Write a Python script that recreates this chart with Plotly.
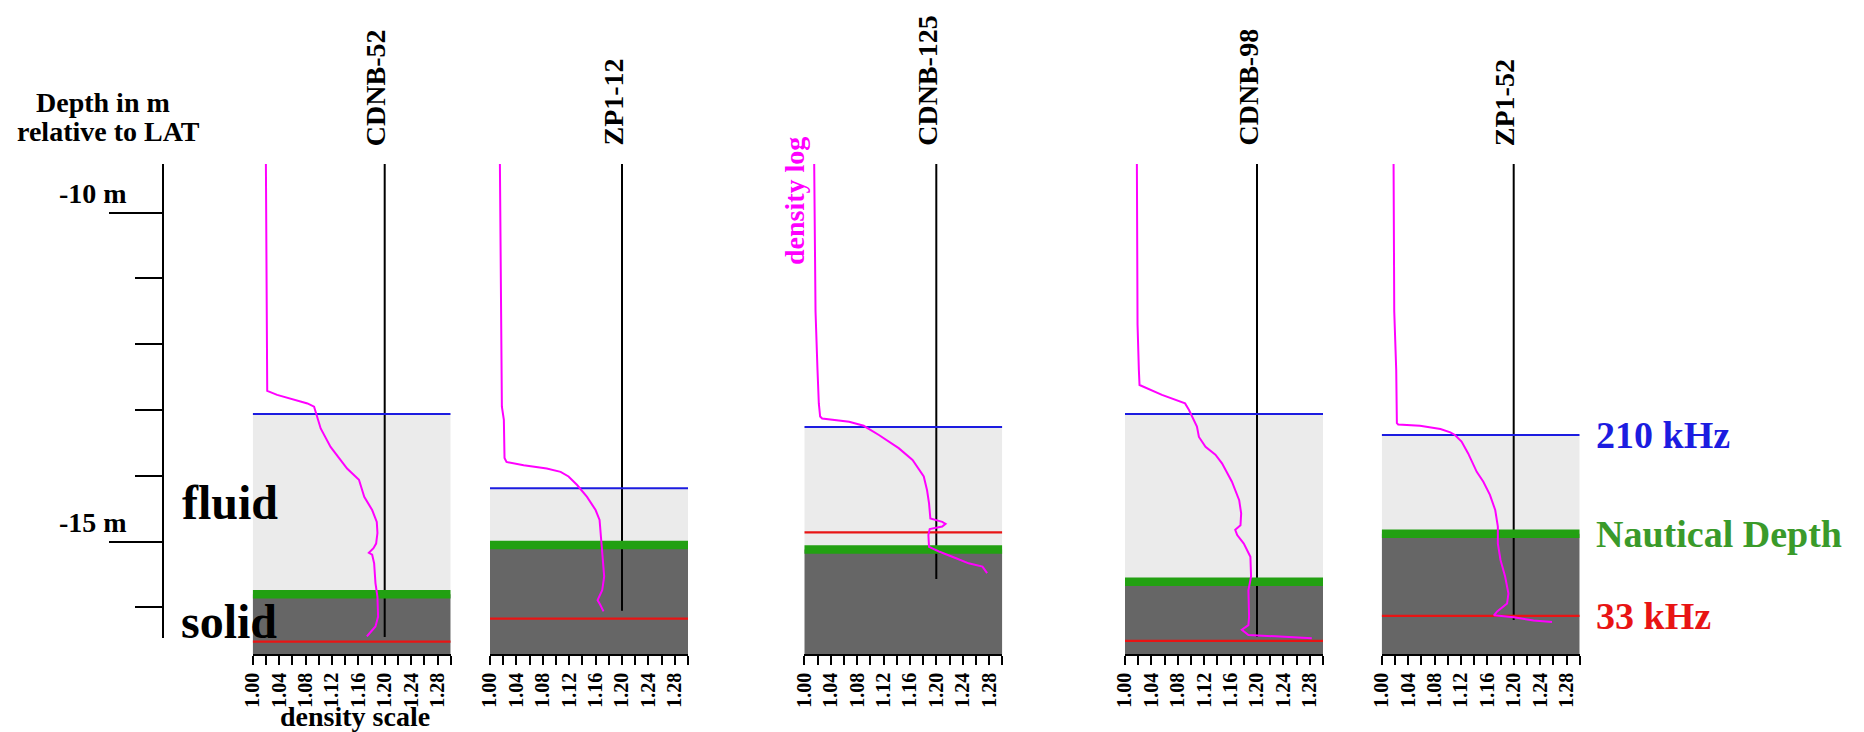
import plotly.graph_objects as go

W, H = 1864, 732

# ---------------- data ----------------
panel_names = ["CDNB-52", "ZP1-12", "CDNB-125", "CDNB-98", "ZP1-52"]

depth_p1 = [-9.26, -10.5, -11.5, -12.71, -12.77, -12.84, -12.90, -12.95, -13.08, -13.28, -13.56, -13.89,
            -14.06, -14.32, -14.52, -14.70, -14.87, -15.03, -15.10, -15.17, -15.20, -15.33, -15.63,
            -15.84, -16.14, -16.29, -16.37, -16.44]
dens_p1 = [1.020, 1.021, 1.022, 1.022, 1.037, 1.063, 1.083, 1.093, 1.097, 1.103, 1.118, 1.143,
           1.161, 1.169, 1.181, 1.188, 1.189, 1.187, 1.183, 1.176, 1.181, 1.184, 1.186,
           1.189, 1.190, 1.186, 1.179, 1.173]

depth_p2 = [-9.26, -10.8, -11.8, -12.39, -12.95, -13.15, -13.73, -13.79, -13.84, -13.89, -13.94, -14.01,
            -14.14, -14.32, -14.52, -14.67, -14.92, -15.23, -15.53, -15.74, -15.89, -15.96, -16.06]
dens_p2 = [1.015, 1.016, 1.017, 1.017, 1.018, 1.021, 1.022, 1.025, 1.051, 1.086, 1.107, 1.119,
           1.132, 1.147, 1.160, 1.166, 1.168, 1.170, 1.173, 1.170, 1.163, 1.167, 1.172]

depth_p3 = [-9.26, -11.5, -12.39, -12.90, -13.10, -13.13, -13.18, -13.24, -13.38, -13.58, -13.76, -14.01,
            -14.22, -14.42, -14.65, -14.70, -14.73, -14.77, -14.81, -14.90, -15.08, -15.15, -15.25,
            -15.33, -15.38, -15.48]
dens_p3 = [1.015, 1.017, 1.020, 1.022, 1.024, 1.027, 1.068, 1.090, 1.113, 1.143, 1.164, 1.181,
           1.186, 1.189, 1.191, 1.209, 1.214, 1.209, 1.190, 1.188, 1.189, 1.204, 1.229,
           1.249, 1.270, 1.277]

depth_p4 = [-9.26, -11.7, -12.39, -12.62, -12.77, -12.90, -13.00, -13.15, -13.25, -13.41, -13.56, -13.68,
            -13.81, -14.09, -14.37, -14.57, -14.75, -14.82, -14.90, -15.03, -15.23, -15.53, -15.74,
            -16.14, -16.27, -16.34, -16.42, -16.44, -16.47]
dens_p4 = [1.018, 1.019, 1.021, 1.022, 1.056, 1.091, 1.097, 1.104, 1.109, 1.112, 1.122, 1.137,
           1.147, 1.162, 1.173, 1.176, 1.175, 1.167, 1.170, 1.180, 1.190, 1.191, 1.187,
           1.188, 1.187, 1.177, 1.187, 1.228, 1.283]

depth_p5 = [-9.26, -11.5, -12.39, -13.20, -13.22, -13.24, -13.29, -13.34, -13.38, -13.48, -13.66, -13.94,
            -14.09, -14.29, -14.52, -14.77, -15.03, -15.28, -15.53, -15.79, -15.94, -16.06, -16.12,
            -16.15, -16.20, -16.22]
dens_p5 = [1.018, 1.019, 1.022, 1.023, 1.025, 1.058, 1.089, 1.104, 1.111, 1.121, 1.131, 1.144,
           1.154, 1.164, 1.172, 1.176, 1.176, 1.180, 1.187, 1.192, 1.190, 1.175, 1.170,
           1.200, 1.230, 1.258]

profiles_depth = [depth_p1, depth_p2, depth_p3, depth_p4, depth_p5]
profiles_dens = [dens_p1, dens_p2, dens_p3, dens_p4, dens_p5]

level_210khz = [-13.06, -14.19, -13.26, -13.06, -13.38]
level_nautical = [-15.80, -15.05, -15.12, -15.61, -14.88]
level_33khz = [-16.52, -16.17, -14.86, -16.51, -16.13]
ref_line_bottom = [-16.45, -16.05, -15.57, -16.45, -16.19]
ref_density = 1.20
profile_top = -9.26
depth_axis_bottom = -16.47
panel_bottom = -16.71
density_min, density_max = 1.00, 1.30
density_ticks = [1.00, 1.04, 1.08, 1.12, 1.16, 1.20, 1.24, 1.28]
density_ticktext = ["1.00", "1.04", "1.08", "1.12", "1.16", "1.20", "1.24", "1.28"]

# ---------------- geometry / style ----------------
PX_PER_M = 65.8
Y10_PX = 212.6
top_depth = -10 + Y10_PX / PX_PER_M


def ypx(d):
    return Y10_PX + (-10 - d) * PX_PER_M


def yfrac(d):
    return 1 - ypx(d) / H


def pfrac(py):
    return 1 - py / H


panel_left_px = [252.7, 490.0, 804.3, 1125.0, 1381.7]
PANEL_W = 198.0
DEPTH_AXIS_X = 163.3

SERIF = "Liberation Serif"
C_BLUE = "#1c1ce0"
C_RED = "#e81414"
C_GREEN = "#22a012"
C_GREEN_TXT = "#3a9a2a"
C_MAG = "#ff00ff"
C_LIGHT = "#ebebeb"
C_DARK = "#666666"

fig = go.Figure()
shapes = []
annotations = []

for i in range(5):
    xa = "x" if i == 0 else f"x{i+1}"
    # fills
    shapes.append(dict(type="rect", xref=xa, yref="y", x0=density_min, x1=density_max,
                       y0=level_nautical[i], y1=level_210khz[i], fillcolor=C_LIGHT,
                       line=dict(width=0), layer="below"))
    shapes.append(dict(type="rect", xref=xa, yref="y", x0=density_min, x1=density_max,
                       y0=panel_bottom, y1=level_nautical[i], fillcolor=C_DARK,
                       line=dict(width=0), layer="below"))
    # reference black line
    fig.add_trace(go.Scatter(x=[ref_density, ref_density], y=[profile_top, ref_line_bottom[i]],
                             mode="lines", line=dict(color="black", width=2),
                             xaxis=xa, yaxis="y", showlegend=False, hoverinfo="skip"))
    # horizontal levels
    for lvl, col, wd in [(level_210khz[i], C_BLUE, 2), (level_nautical[i], C_GREEN, 8.5),
                         (level_33khz[i], C_RED, 2.2)]:
        fig.add_trace(go.Scatter(x=[density_min, density_max], y=[lvl, lvl], mode="lines",
                                 line=dict(color=col, width=wd), xaxis=xa, yaxis="y",
                                 showlegend=False, hoverinfo="skip"))
    # density log
    fig.add_trace(go.Scatter(x=profiles_dens[i], y=profiles_depth[i], mode="lines",
                             line=dict(color=C_MAG, width=2), xaxis=xa, yaxis="y",
                             showlegend=False))
    # title
    annotations.append(dict(text=f"<b>{panel_names[i]}</b>", x=ref_density, xref=xa,
                            y=pfrac(148), yref="paper", textangle=-90, xanchor="center",
                            yanchor="bottom", xshift=-9, showarrow=False,
                            font=dict(family=SERIF, size=28, color="black")))

# empty trace on its own hidden x axis so the depth axis (y2) is drawn
fig.add_trace(go.Scatter(x=[None], y=[None], xaxis="x6", yaxis="y2", showlegend=False,
                         hoverinfo="skip"))

layout = dict(
    width=W, height=H, margin=dict(l=0, r=0, t=0, b=0, autoexpand=False),
    paper_bgcolor="white", plot_bgcolor="rgba(0,0,0,0)", showlegend=False,
    yaxis=dict(domain=[yfrac(panel_bottom), 1], range=[panel_bottom, top_depth],
               visible=False, fixedrange=True),
    yaxis2=dict(domain=[yfrac(depth_axis_bottom), yfrac(profile_top)],
                range=[depth_axis_bottom, profile_top], anchor="free",
                position=DEPTH_AXIS_X / W, side="left", showline=True, linecolor="black",
                linewidth=2, ticks="outside", tickmode="linear", tick0=-10, dtick=5,
                ticklen=53, tickwidth=2, tickcolor="black", showticklabels=False,
                showgrid=False, zeroline=False, fixedrange=True,
                minor=dict(ticks="outside", tick0=-10, dtick=1, ticklen=27, tickwidth=2,
                           tickcolor="black", showgrid=False)),
    xaxis6=dict(domain=[DEPTH_AXIS_X / W, 240 / W], range=[0, 1], anchor="y2",
                visible=False, fixedrange=True),
)
for i in range(5):
    key = "xaxis" if i == 0 else f"xaxis{i+1}"
    l = panel_left_px[i]
    layout[key] = dict(domain=[l / W, (l + PANEL_W) / W], range=[density_min, density_max],
                       anchor="y", showline=True, linecolor="black", linewidth=1.5,
                       ticks="outside", ticklen=9, tickwidth=1.5, tickcolor="black",
                       tickmode="array", tickvals=density_ticks, ticktext=density_ticktext,
                       tickangle=-90, showgrid=False, zeroline=False, fixedrange=True,
                       tickfont=dict(family=SERIF, size=20, color="black", weight="bold"),
                       minor=dict(ticks="outside", tick0=density_min, dtick=0.02, ticklen=9,
                                  tickwidth=1.5, tickcolor="black", showgrid=False))


def txt(text, xp, yp, size, color="black", angle=0, xanchor="center", yref="paper", yshift=0):
    return dict(text=f"<b>{text}</b>", x=xp, y=yp, xref="paper", yref=yref,
                xanchor=xanchor, yanchor="middle", textangle=angle, yshift=yshift,
                showarrow=False, font=dict(family=SERIF, size=size, color=color))


annotations += [
    txt("Depth in m", 103 / W, pfrac(102), 28),
    txt("relative to LAT", 108 / W, pfrac(132), 28),
    txt("-10 m", 92.5 / W, -10, 28, yref="y", yshift=19),
    txt("-15 m", 92.5 / W, -15, 28, yref="y", yshift=19),
    txt("fluid", 230 / W, pfrac(502), 48),
    txt("solid", 229 / W, pfrac(621), 48),
    txt("density scale", 355 / W, pfrac(716), 28),
    txt("density log", 794 / W, pfrac(201), 28, color=C_MAG, angle=-90),
    txt("210 kHz", 1594 / W, level_210khz[4], 38, color=C_BLUE, xanchor="left", yref="y"),
    txt("Nautical Depth", 1594 / W, level_nautical[4], 38, color=C_GREEN_TXT, xanchor="left",
        yref="y"),
    txt("33 kHz", 1594 / W, level_33khz[4], 38, color=C_RED, xanchor="left", yref="y"),
]
layout["shapes"] = shapes
layout["annotations"] = annotations
fig.update_layout(**layout)

fig.write_html("out.html")
